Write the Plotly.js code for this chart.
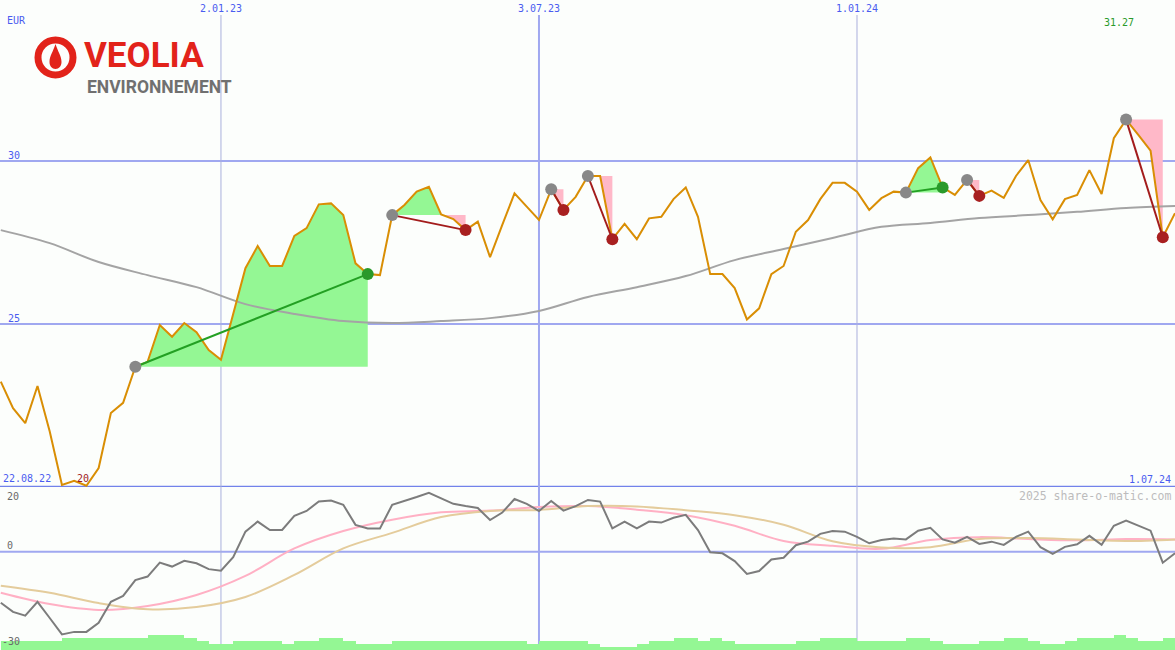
<!DOCTYPE html>
<html><head><meta charset="utf-8">
<script src="https://cdn.plot.ly/plotly-3.0.1.min.js"></script>
<style>html,body{margin:0;padding:0;background:#fcfefc;}#chart{width:1175px;height:650px;}</style>
</head><body><div id="chart"></div>
<script>
// ---- data (weekly, first week 29.08.22) ----
const startDate = '2022-08-29';
const prices = [23.23,22.42,21.96,23.10,21.70,20.06,20.19,20.04,20.58,22.27,
  22.58,23.69,23.84,24.97,24.61,25.03,24.75,24.20,23.90,25.28,
  26.71,27.39,26.78,26.78,27.70,27.94,28.67,28.70,28.34,26.86,
  26.53,26.50,28.34,28.65,29.06,29.21,28.36,28.22,27.88,28.14,
  27.05,28.04,29.01,28.60,28.19,29.13,28.50,28.90,29.54,29.54,
  27.60,28.07,27.60,28.24,28.29,28.83,29.19,28.29,26.53,26.53,
  26.10,25.14,25.48,26.53,26.78,27.83,28.19,28.83,29.33,29.33,
  29.06,28.50,28.86,29.06,29.03,29.78,30.11,29.19,28.96,29.42,
  28.93,29.09,28.87,29.54,30.03,28.80,28.21,28.83,28.96,29.72,
  28.99,30.70,31.27,30.80,30.32,27.66,28.40];
// moving average, read every 4th week
const movingAvg = [27.88,27.48,26.90,26.50,26.13,25.61,25.31,25.09,25.03,25.09,
  25.18,25.40,25.83,26.13,26.47,26.96,27.30,27.64,27.98,28.10,
  28.25,28.34,28.44,28.56,28.62];
// lower panel oscillator (weekly)
const momentum = [-15.8,-18.6,-19.8,-15.5,-20.5,-25.6,-24.8,-24.8,-22.0,-15.5,
  -13.7,-8.8,-7.7,-3.4,-4.6,-2.8,-3.6,-5.4,-5.9,-1.7,
  6.2,9.3,6.7,6.7,11.1,12.6,15.5,15.8,14.5,8.3,
  7.2,7.2,14.5,15.6,16.9,18.2,16.6,14.8,14.1,13.5,
  9.8,12.1,16.3,14.8,12.6,15.7,12.7,14.1,16.0,15.5,
  7.2,9.3,7.2,9.3,9.0,10.5,11.4,6.7,-0.2,-0.5,
  -2.9,-6.9,-6.0,-2.4,-1.9,2.0,3.1,5.5,6.4,6.2,
  4.6,2.6,3.6,4.1,3.8,6.5,7.4,3.8,2.8,4.6,
  2.4,3.1,2.1,4.6,6.2,1.4,-0.7,1.5,2.3,4.9,
  2.1,8.0,9.6,8.0,6.5,-3.4,-0.5];
// smoothed lines, read every 4th week
const signalPink = [-12.7,-16.2,-18.0,-16.8,-13.4,-7.5,1.0,6.4,9.9,12.2,
  12.7,13.8,14.1,13.0,11.3,8.0,3.3,1.8,0.9,3.6,
  4.5,3.9,3.5,3.9,3.8];
const signalTan = [-10.5,-12.7,-15.9,-17.8,-17.1,-14.0,-7.2,1.0,5.8,10.7,
  12.6,12.9,14.1,14.0,12.8,11.3,8.3,3.2,1.3,1.4,
  3.9,4.2,3.8,3.3,3.8];
// volume per week interval (relative units)
const volume = [3,3,3,3,3,4,4,4,4,4,4,4,5,5,5,4,3,2,2,3,
  3,3,3,2,3,3,4,4,3,2,2,2,3,3,3,3,3,3,3,3,
  3,3,3,2,3,3,3,3,2,1,1,1,2,3,3,4,4,3,4,3,
  2,2,2,2,2,3,3,4,4,4,3,3,3,3,4,4,3,2,2,2,
  3,3,4,4,3,2,2,3,4,4,4,5,4,3,3,4];
// trade signals: [start week index, end week index]
const signals = [[11,30],[32,38],[45,46],[48,50],[74,77],[79,80],[92,95]];
const gridDates = ['2023-01-02','2023-07-03','2024-01-01'];
const gridDateLabels = ['2.01.23','3.07.23','1.01.24'];
const priceGrid = [25,30];
const firstLabel = '22.08.22', lastLabel = '1.07.24';

// ---- helpers ----
const DAY = 86400000;
const t0 = Date.parse(startDate + 'T00:00:00Z');
const fmt = ms => new Date(ms).toISOString().replace('T',' ').replace('Z','');
const wk = i => t0 + i*7*DAY;
const weeks = prices.map((_, i) => fmt(wk(i)));
const sampleWeeks = movingAvg.map((_, j) => weeks[4*j]);
const W = 1175, H = 650;
const PX = x => x / W, PY = y => 1 - y / H;

const GREEN_FILL = '#94f794', PINK_FILL = '#ffb8c8';
const traces = [];

// volume bars (lower panel, own axis)
traces.push({type:'bar', x: volume.map((_, k) => fmt(wk(k) + 3.5*DAY)), y: volume,
  width: volume.map(() => 7*DAY), marker:{color: GREEN_FILL, line:{width:0}},
  xaxis:'x', yaxis:'y2', hoverinfo:'skip'});

// signal fills
signals.forEach(([s, e]) => {
  const base = prices[s];
  const xs = [], up = [], dn = [];
  for (let i = s; i <= e; i++) {
    if (i > s) {
      const a = prices[i-1] - base, b = prices[i] - base;
      if (a * b < 0) {
        const t = a / (a - b);
        xs.push(fmt(wk(i - 1 + t))); up.push(base); dn.push(base);
      }
    }
    xs.push(weeks[i]); up.push(Math.max(prices[i], base)); dn.push(Math.min(prices[i], base));
  }
  const baseY = xs.map(() => base);
  traces.push({x: xs, y: baseY, mode:'lines', line:{width:0}, hoverinfo:'skip', xaxis:'x', yaxis:'y'});
  traces.push({x: xs, y: up, mode:'lines', line:{width:0}, fill:'tonexty', fillcolor: GREEN_FILL, hoverinfo:'skip', xaxis:'x', yaxis:'y'});
  traces.push({x: xs, y: baseY, mode:'lines', line:{width:0}, hoverinfo:'skip', xaxis:'x', yaxis:'y'});
  traces.push({x: xs, y: dn, mode:'lines', line:{width:0}, fill:'tonexty', fillcolor: PINK_FILL, hoverinfo:'skip', xaxis:'x', yaxis:'y'});
});

// moving average
traces.push({x: sampleWeeks, y: movingAvg, mode:'lines', line:{color:'#a4a4a4', width:2, shape:'spline', smoothing:1}, xaxis:'x', yaxis:'y', hoverinfo:'skip'});
// price
traces.push({x: weeks, y: prices, mode:'lines', line:{color:'#d98e04', width:2}, xaxis:'x', yaxis:'y', hoverinfo:'skip'});
// signal lines and markers
signals.forEach(([s, e]) => {
  const win = prices[e] > prices[s];
  const col = win ? '#23a023' : '#a31c1c';
  traces.push({x:[weeks[s], weeks[e]], y:[prices[s], prices[e]], mode:'lines', line:{color: col, width:2}, xaxis:'x', yaxis:'y', hoverinfo:'skip'});
  traces.push({x:[weeks[s]], y:[prices[s]], mode:'markers', marker:{color:'#888888', size:12}, xaxis:'x', yaxis:'y', hoverinfo:'skip'});
  traces.push({x:[weeks[e]], y:[prices[e]], mode:'markers', marker:{color: win ? '#2a9a2a' : '#a82020', size:12}, xaxis:'x', yaxis:'y', hoverinfo:'skip'});
});

// oscillator lines
traces.push({x: sampleWeeks, y: signalPink, mode:'lines', line:{color:'#ffb0c4', width:2, shape:'spline', smoothing:1}, xaxis:'x', yaxis:'y3', hoverinfo:'skip'});
traces.push({x: sampleWeeks, y: signalTan, mode:'lines', line:{color:'#e4cc9c', width:2, shape:'spline', smoothing:1}, xaxis:'x', yaxis:'y3', hoverinfo:'skip'});
traces.push({x: weeks, y: momentum, mode:'lines', line:{color:'#7c7c7c', width:2}, xaxis:'x', yaxis:'y3', hoverinfo:'skip'});

// ---- layout ----
const splitY = 487;               // pixel boundary between panels
const upperDomain = [1 - splitY / H, 1];
const lowerDomain = [0, 1 - splitY / H];
const MONO = 'DejaVu Sans Mono';
const BLUE = '#4a5cf0';

const shapes = [];
priceGrid.forEach(v => shapes.push({type:'line', xref:'paper', x0:0, x1:1, yref:'y', y0:v, y1:v, line:{color:'#a0a8f0', width:2}, layer:'below'}));
shapes.push({type:'line', xref:'paper', x0:0, x1:1, yref:'y', y0:20, y1:20, line:{color:'#7282ea', width:2.5}, layer:'below'});
shapes.push({type:'line', xref:'paper', x0:0, x1:1, yref:'y3', y0:0, y1:0, line:{color:'#a0a8f0', width:2}, layer:'below'});
gridDates.forEach((d, k) => shapes.push({type:'line', xref:'x', x0:d, x1:d, yref:'paper', y0:0, y1:PY(15),
  line:{color: k === 1 ? '#a0a8f0' : '#aab0dc', width: k === 1 ? 2 : 1}, layer:'below'}));

// logo (decoration)
const RED = '#e2231a';
shapes.push({type:'circle', xref:'paper', yref:'paper', x0:PX(38), x1:PX(73), y0:PY(75), y1:PY(40), line:{color:RED, width:7}, fillcolor:'rgba(0,0,0,0)'});
const dropPts = [[55.5,44],[53,52],[49.5,56],[49.5,62],[49.5,66],[52,69],[55.5,69],[59,69],[61.5,66],[61.5,62],[61.5,56],[58,52],[55.5,44]];
const P = ([x,y]) => PX(x) + ',' + PY(y);
const dropPath = 'M' + P(dropPts[0]) + ' C' + P(dropPts[1]) + ' ' + P(dropPts[2]) + ' ' + P(dropPts[3]) +
  ' C' + P(dropPts[4]) + ' ' + P(dropPts[5]) + ' ' + P(dropPts[6]) +
  ' C' + P(dropPts[7]) + ' ' + P(dropPts[8]) + ' ' + P(dropPts[9]) +
  ' C' + P(dropPts[10]) + ' ' + P(dropPts[11]) + ' ' + P(dropPts[12]) + ' Z';
shapes.push({type:'path', xref:'paper', yref:'paper', path: dropPath, fillcolor: RED, line:{width:0}});

const ann = [];
const txt = (text, x, y, opts) => Object.assign({text, x, y, showarrow:false, font:{family:MONO, size:10, color:BLUE}}, opts);
ann.push(txt('EUR', PX(5), PY(20), {xref:'paper', yref:'paper', xanchor:'left', yanchor:'middle'}));
gridDates.forEach((d, k) => ann.push(txt(gridDateLabels[k], d, PY(8), {xref:'x', yref:'paper', xanchor:'center', yanchor:'middle'})));
priceGrid.forEach(v => ann.push(txt(String(v), PX(6), v, {xref:'paper', yref:'y', xanchor:'left', yanchor:'middle', yshift:6})));
ann.push(txt(firstLabel, PX(1), PY(478), {xref:'paper', yref:'paper', xanchor:'left', yanchor:'middle'}));
ann.push(txt(lastLabel, PX(1173), PY(479), {xref:'paper', yref:'paper', xanchor:'right', yanchor:'middle'}));
// max / min labels
const maxI = prices.indexOf(Math.max(...prices));
const minI = prices.indexOf(Math.min(...prices));
ann.push(txt(prices[maxI].toFixed(2), weeks[maxI], PY(22), {xref:'x', yref:'paper', xanchor:'center', yanchor:'middle', xshift:-7, font:{family:MONO, size:10, color:'#2a9a2a'}}));
ann.push(txt(String(Math.round(prices[minI])), weeks[minI], PY(478), {xref:'x', yref:'paper', xanchor:'center', yanchor:'middle', xshift:-3, font:{family:MONO, size:10, color:'#a01c1c'}}));
ann.push(txt('2025 share-o-matic.com', PX(1173), PY(496), {xref:'paper', yref:'paper', xanchor:'right', yanchor:'middle', font:{family:MONO, size:11.5, color:'#bcbcbc'}}));
ann.push(txt('20', PX(5), PY(496), {xref:'paper', yref:'paper', xanchor:'left', yanchor:'middle', font:{family:MONO, size:10, color:'#6a6a6a'}}));
ann.push(txt('0', PX(5), 0, {xref:'paper', yref:'y3', xanchor:'left', yanchor:'middle', yshift:6, font:{family:MONO, size:10, color:'#6a6a6a'}}));
ann.push(txt('-30', PX(0), PY(641), {xref:'paper', yref:'paper', xanchor:'left', yanchor:'middle', font:{family:MONO, size:10, color:'#6a6a6a'}}));
// logo text
ann.push({text:'<b>VEOLIA</b>', x:PX(83), y:PY(77), xref:'paper', yref:'paper', xanchor:'left', yanchor:'bottom', showarrow:false, borderpad:0, font:{family:'Roboto', size:35, color:RED}});
ann.push({text:'<b>ENVIRONNEMENT</b>', x:PX(86), y:PY(76), xref:'paper', yref:'paper', xanchor:'left', yanchor:'top', showarrow:false, borderpad:0, font:{family:'Roboto', size:17.5, color:'#707070'}});

const layout = {
  width: W, height: H,
  margin:{l:0, r:0, t:0, b:0, pad:0},
  paper_bgcolor:'#fcfefc', plot_bgcolor:'#fcfefc',
  showlegend:false, hovermode:false, bargap:0,
  xaxis:{type:'date', range:['2022-08-28 13:00', '2024-07-01'], visible:false, anchor:'y2'},
  yaxis:{domain: upperDomain, range:[20, 30 + 161/32.6], visible:false},
  yaxis2:{domain: lowerDomain, range:[0, (H - splitY)/3], visible:false},
  yaxis3:{overlaying:'y2', range:[-30 - (H - 648.7)/3.23, 20], visible:false},
  shapes, annotations: ann
};
Plotly.newPlot('chart', traces, layout, {staticPlot:true, displayModeBar:false});
</script></body></html>
